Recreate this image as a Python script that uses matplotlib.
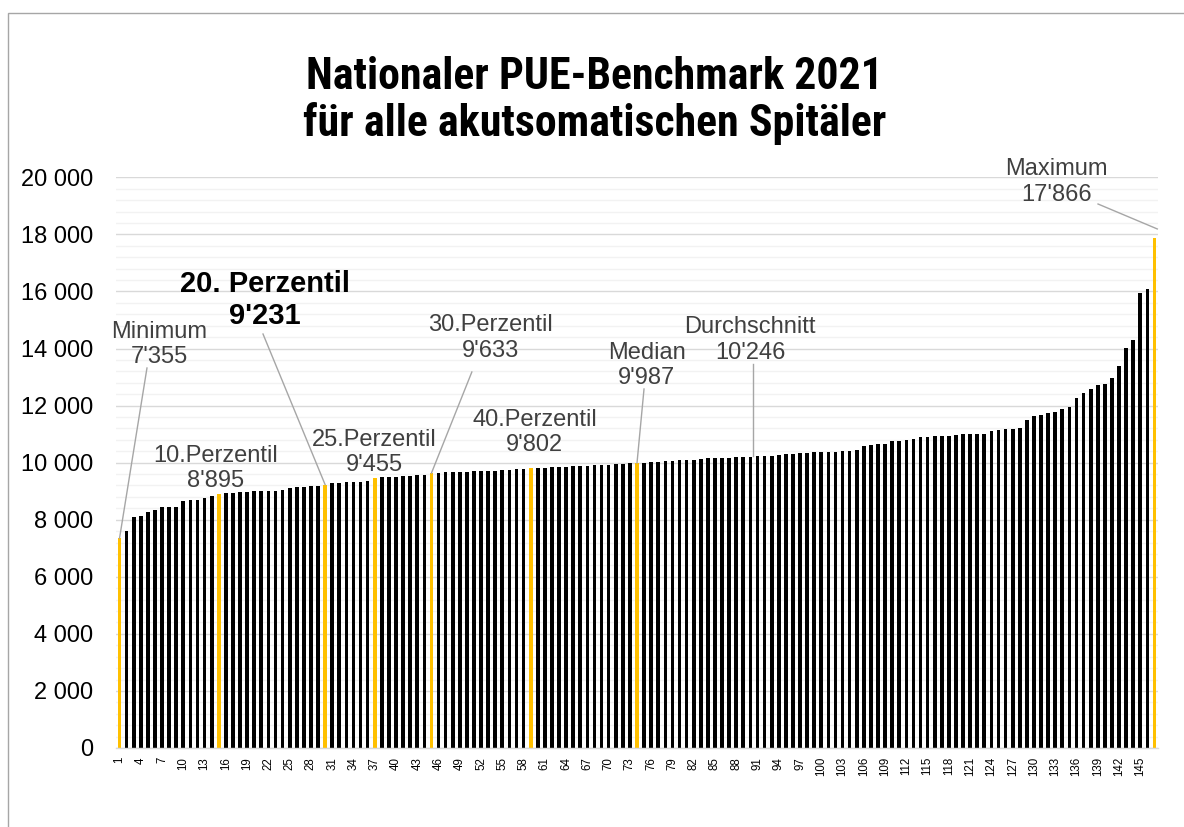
import matplotlib
matplotlib.use("Agg")
import matplotlib.pyplot as plt
from matplotlib import font_manager
from matplotlib.patches import Rectangle
from matplotlib.ticker import MultipleLocator, FuncFormatter

# PUE per hospital, sorted ascending (147 acute-care hospitals)
pue_values = [
    7355, 7612, 8094, 8141, 8271, 8353, 8435, 8440, 8459, 8647,
    8682, 8690, 8765, 8824, 8895, 8935, 8945, 8955, 8965, 8990,
    9000, 9005, 9010, 9050, 9105, 9150, 9160, 9175, 9195, 9231,
    9270, 9295, 9305, 9310, 9320, 9345, 9455, 9490, 9500, 9510,
    9530, 9545, 9565, 9580, 9633, 9640, 9655, 9665, 9680, 9685,
    9695, 9700, 9710, 9720, 9730, 9740, 9760, 9785, 9802, 9820,
    9830, 9840, 9850, 9860, 9880, 9885, 9895, 9905, 9920, 9930,
    9940, 9960, 9975, 9987, 9995, 10012, 10024, 10048, 10071, 10095,
    10098, 10106, 10130, 10165, 10177, 10178, 10180, 10182, 10201, 10205,
    10224, 10226, 10228, 10260, 10307, 10318, 10330, 10342, 10365, 10377,
    10380, 10389, 10401, 10424, 10428, 10580, 10620, 10660, 10668, 10745,
    10756, 10799, 10814, 10901, 10916, 10930, 10932, 10945, 10959, 10988,
    11003, 11017, 11020, 11119, 11134, 11163, 11192, 11206, 11512, 11628,
    11686, 11744, 11759, 11875, 11933, 12282, 12456, 12573, 12733, 12762,
    12951, 13401, 14012, 14288, 15959, 16076, 17866,
]
hospital_no = list(range(1, len(pue_values) + 1))

# highlighted ranks: min, P10, P20, P25, P30, P40, median, max
highlight_ranks = [1, 15, 30, 37, 45, 59, 74, 147]
average_value = 10246

title_lines = ["Nationaler PUE-Benchmark 2021", "für alle akutsomatischen Spitäler"]

# label text, rank the label refers to (None = average)
label_texts = ["Minimum\n7'355", "10.Perzentil\n8'895", "20. Perzentil\n9'231",
               "25.Perzentil\n9'455", "30.Perzentil\n9'633", "40.Perzentil\n9'802",
               "Median\n9'987", "Durchschnitt\n10'246", "Maximum\n17'866"]
label_ranks = [1, 15, 30, 37, 45, 59, 74, None, 147]


def has_font(name):
    try:
        font_manager.findfont(font_manager.FontProperties(family=name, weight="bold"),
                              fallback_to_default=False)
        return True
    except ValueError:
        return False


plt.rcParams["font.family"] = ["Liberation Sans", "DejaVu Sans"]

W, H = 1184, 827
fig = plt.figure(figsize=(W / 100, H / 100), dpi=100)
ax = fig.add_axes([116 / W, 1 - 748 / H, 1042 / W, (748 - 177.3) / H])

colors = ["#FFC000" if n in highlight_ranks else "#000000" for n in hospital_no]
ax.bar(hospital_no, pue_values, width=0.52, color=colors, zorder=2)

ax.set_xlim(0.5, len(pue_values) + 0.5)
ax.set_ylim(0, 20000)
ax.set_yticks(range(0, 20001, 2000))
ax.yaxis.set_minor_locator(MultipleLocator(400))
ax.yaxis.set_major_formatter(FuncFormatter(lambda v, p: f"{v:,.0f}".replace(",", " ")))
ax.set_xticks(hospital_no[::3])
ax.set_xticklabels([str(n) for n in hospital_no[::3]], rotation=90, va="top", fontsize=8.3)
ax.tick_params(axis="x", length=0, pad=6.5)
ax.tick_params(axis="y", which="both", length=0, pad=16.5, labelsize=17)

ax.grid(which="major", axis="y", color="#d9d9d9", lw=1.0, zorder=0)
ax.grid(which="minor", axis="y", color="#f2f2f2", lw=1.0, zorder=0)
ax.set_axisbelow(True)
for s in ["top", "right", "left"]:
    ax.spines[s].set_visible(False)
ax.spines["bottom"].set_color("#d9d9d9")
ax.spines["bottom"].set_linewidth(1.0)

# label positions (data coords) and leader line starts
label_pos = [(6.57, 14141), (14.58, 9795), (21.45, 15700), (37.0, 10363), (53.33, 14368),
             (59.6, 11057), (75.37, 13412), (89.95, 14298), (133.19, 19835)]
line_start = [(4.87, 13317), None, (21.24, 14508), None, (50.7, 13177),
              None, (74.99, 12581), (90.33, 13457), (139.04, 19064)]

for txt, rank, (lx, ly), ls in zip(label_texts, label_ranks, label_pos, line_start):
    bold = txt.startswith("20.")
    ax.text(lx, ly, txt, ha="center", va="center", linespacing=1.2,
            fontsize=21 if bold else 17, fontweight="bold" if bold else "normal",
            color="#000000" if bold else "#404040", zorder=4)
    if ls is None:
        continue
    if rank is None:
        end = (ls[0], average_value)
    elif rank == len(pue_values):
        end = (147.4, 18190)
    else:
        end = (rank, pue_values[rank - 1])
    ax.plot([ls[0], end[0]], [ls[1], end[1]], color="#a6a6a6", lw=1.0, zorder=3, clip_on=False)

# title (condensed face if one is installed)
tfam, tsize = ["Liberation Sans", "DejaVu Sans"], 26.5
for cand, size in [("Liberation Sans Narrow", 32.6), ("Arial Narrow", 32.6), ("Roboto Condensed", 31.6)]:
    if has_font(cand):
        tfam, tsize = [cand, "DejaVu Sans"], size
        break
fig.text(594.8 / W, 1 - 89.4 / H, title_lines[0], ha="center", va="baseline",
         fontsize=tsize, fontweight="bold", family=tfam)
fig.text(594.8 / W, 1 - 136 / H, title_lines[1], ha="center", va="baseline",
         fontsize=tsize, fontweight="bold", family=tfam)

# chart area border
fig.add_artist(Rectangle((8 / W, -0.1), 1.2, 1 - 13 / H + 0.1, transform=fig.transFigure,
                         fill=False, edgecolor="#a6a6a6", lw=1.0))

fig.savefig("out.png", dpi=100)
